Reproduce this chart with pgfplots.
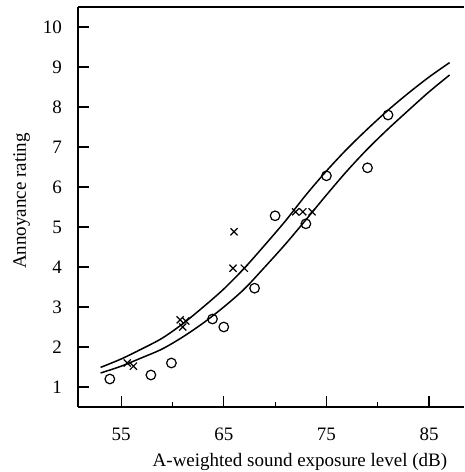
\documentclass[border=0pt]{standalone}
\usepackage{fontspec}
\setmainfont{Liberation Serif}
\usepackage{pgfplots}
\pgfplotsset{compat=1.18}
\begin{document}
\begin{tikzpicture}
\begin{axis}[
  at={(0,0)}, anchor=south west,
  scale only axis, width=386pt, height=400pt,
  xmin=50.8, xmax=88.4, ymin=0.5, ymax=10.5,
  axis x line=box, axis y line=left,
  xtick pos=left,
  axis line style={-, line width=1.6pt, black},
  xtick={55,65,75,85}, minor xtick={60,70,80},
  ytick={1,2,3,4,5,6,7,8,9,10},
  tick align=inside,
  major tick length=11pt, minor tick length=5pt,
  every tick/.style={line width=1.2pt, black},
  font=\fontsize{19}{22}\selectfont,
  /pgf/number format/assume math mode=true,
  xticklabel style={anchor=base, inner sep=0pt, yshift=-33pt},
  yticklabel style={anchor=east, inner sep=0pt, xshift=-16pt},
  xlabel={A-weighted sound exposure level (dB)},
  ylabel={Annoyance rating},
  every axis x label/.style={at={(axis description cs:0.575,0)}, anchor=base, yshift=-59pt},
  every axis y label/.style={at={(axis description cs:0,0.515)}, xshift=-52pt, rotate=90, anchor=base},
]
% upper curve
\addplot[black, line width=1.5pt, smooth, no marks] coordinates {
(53.0,1.49) (55.0,1.70) (57.0,1.95) (59.0,2.22) (61.0,2.58) (63.0,3.00)
(65.0,3.45) (67.0,3.97) (69.0,4.55) (71.0,5.15) (73.0,5.80) (75.0,6.40)
(77.0,6.95) (79.0,7.45) (81.0,7.92) (83.0,8.35) (85.0,8.75) (87.0,9.11)};
% lower curve
\addplot[black, line width=1.5pt, smooth, no marks] coordinates {
(53.0,1.35) (55.0,1.52) (57.0,1.73) (59.0,1.95) (61.0,2.25) (63.0,2.60)
(65.0,3.00) (67.0,3.45) (69.0,4.00) (71.0,4.57) (73.0,5.18) (75.0,5.80)
(77.0,6.40) (79.0,6.95) (81.0,7.45) (83.0,7.92) (85.0,8.38) (87.0,8.80)};
% circles
\addplot[only marks, mark=o, mark size=4.8pt, mark options={line width=1.2pt, black}] coordinates {
(53.9,1.2) (57.9,1.3) (59.9,1.6) (63.9,2.7) (65.0,2.5) (68.0,3.47)
(70.0,5.28) (73.0,5.08) (75.0,6.28) (79.0,6.48) (81.0,7.8)};
% crosses
\addplot[only marks, mark=x, mark size=5pt, mark options={line width=1.2pt, black}] coordinates {
(55.6,1.6) (56.2,1.52) (60.75,2.68) (61.3,2.65) (61.0,2.5)
(65.9,3.97) (67.0,3.97) (66.0,4.88)
(72.0,5.38) (72.7,5.38) (73.6,5.38)};
\end{axis}
\pgfresetboundingbox
\useasboundingbox (-78pt,-65pt) rectangle (386pt,407pt);
\end{tikzpicture}
\end{document}
